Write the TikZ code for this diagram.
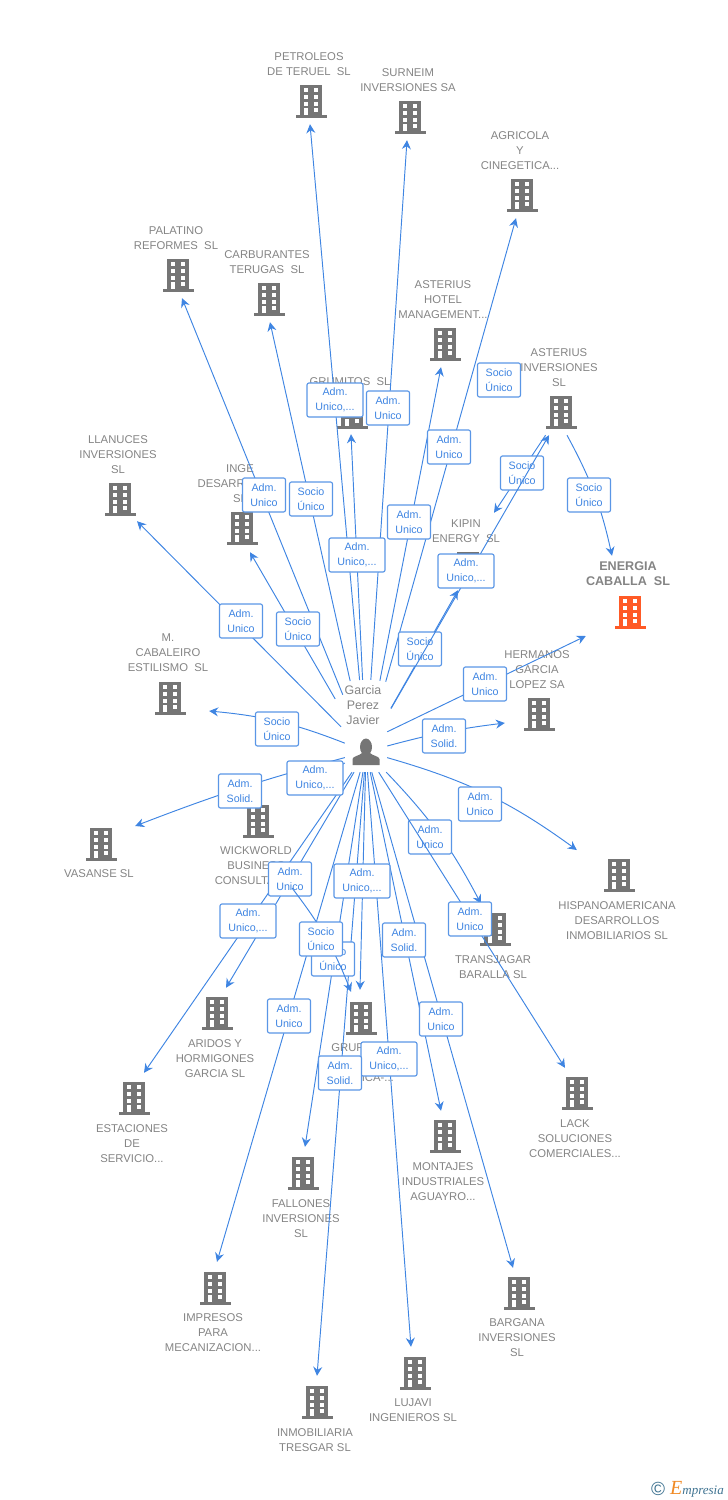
\documentclass[tikz,border=0pt]{standalone}
\usepackage{fontspec}
\setmainfont{Liberation Sans}
\newfontfamily\logofont{Liberation Serif}
\usetikzlibrary{arrows.meta}

\definecolor{bldgray}{HTML}{757575}
\definecolor{bldorange}{HTML}{FF5A26}
\definecolor{txtgray}{HTML}{848484}
\definecolor{linkblue}{HTML}{3F85E2}
\definecolor{boxblue}{HTML}{5A96E6}
\definecolor{logoblue}{HTML}{3F7391}
\definecolor{logoorange}{HTML}{F08A24}

\newcommand{\bldshape}[1]{
    \begin{scope}[shift={(path picture bounding box.center)}]
        \fill[#1] (-11,-16.5) rectangle (11,13.5);
        \fill[#1] (-15.5,13.5) rectangle (15.5,16.5);
        \foreach \yy in {-12.7,-6.3,0.7} {
            \fill[white] (-7,\yy) rectangle (-2.8,\yy+3.8);
            \fill[white] (3,\yy) rectangle (7.2,\yy+3.8);
        }
        \fill[white] (-7,7.3) rectangle (-2.8,13.5);
        \fill[white] (3,7.3) rectangle (7.2,11.1);
    \end{scope}
}

\begin{document}
\begin{tikzpicture}[x=1pt,y=-1pt,>={Stealth[length=9pt,width=9pt,inset=3pt]},
    bld/.style={rectangle,minimum width=74pt,minimum height=46pt,inner sep=0pt,path picture={\bldshape{#1}}},
    bld/.default=bldgray,
    name text/.style={align=center,text=txtgray,xshift=-2pt,yshift=-1pt,font=\fontsize{11.3}{15}\selectfont},
    link/.style={->,draw=linkblue,line width=0.95pt},
    role/.style={draw=boxblue,fill=white,line width=1.15pt,rounded corners=2pt,align=center,text=linkblue,inner sep=0pt,minimum width=43pt,minimum height=34pt,font=\fontsize{10.7}{15}\selectfont},
    role wide/.style={role,minimum width=56pt}]

            \useasboundingbox (0,0) rectangle (728,1500);

            \node[rectangle, minimum width=42pt, minimum height=40pt, inner sep=0pt, path picture={
                \begin{scope}[shift={(path picture bounding box.center)}]
                    \fill[bldgray] (0,-5) ellipse (6pt and 8.5pt);
                    \fill[bldgray] (-13.5,13) -- (-13.5,7) .. controls (-13,4) and (-7,4) .. (-4,1) -- (4,1) .. controls (7,4) and (13,4) .. (13.5,7) -- (13.5,13) -- cycle;
                \end{scope}}] (garcia) at (366,752) {};
            \node[name text, node distance=48pt, xshift=-1pt, font=\fontsize{12.4}{15}\selectfont] (garcia text) [above of = garcia] {Garcia\\Perez\\Javier};

            \node[bld] (petroleos) at (311,101) {};
            \node[name text, node distance=37.5pt] (petroleos text) [above of = petroleos] {PETROLEOS\\DE TERUEL\ \ SL};
            \node[bld] (surneim) at (410,117) {};
            \node[name text, node distance=37.5pt] (surneim text) [above of = surneim] {SURNEIM\\INVERSIONES SA};
            \node[bld] (agricola) at (522,195) {};
            \node[name text, node distance=45.5pt] (agricola text) [above of = agricola] {AGRICOLA\\Y\\CINEGETICA...};
            \node[bld] (palatino) at (178,275) {};
            \node[name text, node distance=37.5pt] (palatino text) [above of = palatino] {PALATINO\\REFORMES\ \ SL};
            \node[bld] (carburantes) at (269,299) {};
            \node[name text, node distance=37.5pt] (carburantes text) [above of = carburantes] {CARBURANTES\\TERUGAS\ \ SL};
            \node[bld] (hotel) at (445,344) {};
            \node[name text, node distance=45.5pt] (hotel text) [above of = hotel] {ASTERIUS\\HOTEL\\MANAGEMENT...};
            \node[bld] (grumitos) at (352,412) {};
            \node[name text, node distance=31pt] (grumitos text) [above of = grumitos] {GRUMITOS\ \ SL};
            \node[bld] (inversiones) at (561,412) {};
            \node[name text, node distance=45.5pt] (inversiones text) [above of = inversiones] {ASTERIUS\\INVERSIONES\\SL};
            \node[bld] (llanuces) at (120,499) {};
            \node[name text, node distance=45.5pt] (llanuces text) [above of = llanuces] {LLANUCES\\INVERSIONES\\SL};
            \node[bld] (inge) at (242,528) {};
            \node[name text, node distance=45.5pt] (inge text) [above of = inge] {INGE\\DESARROLLOS\\SL};
            \node[bld] (kipin) at (468,568) {};
            \node[name text, node distance=37.5pt] (kipin text) [above of = kipin] {KIPIN\\ENERGY\ \ SL};
            \node[bld=bldorange] (energia) at (630,612) {};
            \node[name text, node distance=39pt, font=\fontsize{12.6}{15}\selectfont\bfseries] (energia text) [above of = energia] {ENERGIA\\CABALLA\ \ SL};
            \node[bld] (hermanos) at (539,714) {};
            \node[name text, node distance=45.5pt] (hermanos text) [above of = hermanos] {HERMANOS\\GARCIA\\LOPEZ SA};
            \node[bld] (cabaleiro) at (170,698) {};
            \node[name text, node distance=46pt] (cabaleiro text) [above of = cabaleiro] {M.\\CABALEIRO\\ESTILISMO\ \ SL};

            \node[bld] (vasanse) at (101,844) {};
            \node[name text, node distance=29pt] (vasanse text) [below of = vasanse] {VASANSE SL};
            \node[bld] (wickworld) at (258,821) {};
            \node[name text, node distance=44pt] (wickworld text) [below of = wickworld] {WICKWORLD\\BUSINESS\\CONSULTANTS};
            \node[bld] (hispano) at (619,875) {};
            \node[name text, node distance=45pt] (hispano text) [below of = hispano] {HISPANOAMERICANA\\DESARROLLOS\\INMOBILIARIOS SL};
            \node[bld] (transjagar) at (495,929) {};
            \node[name text, node distance=37.5pt] (transjagar text) [below of = transjagar] {TRANSJAGAR\\BARALLA SL};
            \node[bld] (lack) at (577,1093) {};
            \node[name text, node distance=45pt] (lack text) [below of = lack] {LACK\\SOLUCIONES\\COMERCIALES...};
            \node[bld] (aridos) at (217,1013) {};
            \node[name text, node distance=45pt] (aridos text) [below of = aridos] {ARIDOS Y\\HORMIGONES\\GARCIA SL};
            \node[bld] (estaciones) at (134,1098) {};
            \node[name text, node distance=45pt] (estaciones text) [below of = estaciones] {ESTACIONES\\DE\\SERVICIO...};
            \node[bld] (grup) at (361,1018) {};
            \node[name text, node distance=44pt] (grup text) [below of = grup] {GRUP\hphantom{XXX}\\~\\\hphantom{XXXXX}ICA-...};
            \node[bld] (fallones) at (303,1173) {};
            \node[name text, node distance=45pt] (fallones text) [below of = fallones] {FALLONES\\INVERSIONES\\SL};
            \node[bld] (montajes) at (445,1136) {};
            \node[name text, node distance=45pt] (montajes text) [below of = montajes] {MONTAJES\\INDUSTRIALES\\AGUAYRO...};
            \node[bld] (impresos) at (215,1288) {};
            \node[name text, node distance=44pt] (impresos text) [below of = impresos] {IMPRESOS\\PARA\\MECANIZACION...};
            \node[bld] (bargana) at (519,1293) {};
            \node[name text, node distance=44pt] (bargana text) [below of = bargana] {BARGANA\\INVERSIONES\\SL};
            \node[bld] (lujavi) at (415,1373) {};
            \node[name text, node distance=36.5pt] (lujavi text) [below of = lujavi] {LUJAVI\\INGENIEROS SL};
            \node[bld] (inmobiliaria) at (317,1402) {};
            \node[name text, node distance=37.5pt] (inmobiliaria text) [below of = inmobiliaria] {INMOBILIARIA\\TRESGAR SL};

            \draw[link, shorten <=52pt] (garcia) to ([xshift=-1pt]petroleos.south);
            \draw[link, shorten <=52pt] (garcia) to ([xshift=-3pt]surneim.south);
            \draw[link, shorten <=52pt] (garcia) to ([xshift=-6pt]agricola.south);
            \draw[link, shorten <=40pt] (garcia) to ([xshift=4pt]palatino.south);
            \draw[link, shorten <=52pt] (garcia) to ([xshift=1pt]carburantes.south);
            \draw[link, shorten <=52pt] (garcia) to ([xshift=-4pt]hotel.south);
            \draw[link, shorten <=52pt] (garcia) to ([shift={(-1pt,1pt)}]grumitos.south);
            \draw[link, shorten <=7pt] (garcia) to ([shift={(17pt,1pt)}]llanuces.south);
            \draw[link, shorten <=38pt] (garcia) to ([shift={(8pt,-1pt)}]inge.south);
            \draw[link, bend right=8] (garcia) to ([shift={(2pt,-13pt)}]cabaleiro.east);
            \draw[link, bend right=3] (garcia) to ([shift={(-3pt,18pt)}]vasanse.east);
            \draw[link] (garcia) to ([shift={(-8pt,28pt)}]wickworld.east);
            \draw[link, bend left=4] (garcia) to ([shift={(3pt,-9pt)}]hermanos.west);
            \draw[link] (garcia.north east) to ([shift={(-7pt,-24pt)}]energia.west);
            \draw[link, bend left=10] (garcia) to ([shift={(-5pt,25pt)}]hispano.west);
            \draw[link] (garcia) to ([shift={(9pt,2pt)}]aridos.north);
            \draw[link] (garcia) to ([shift={(10pt,2pt)}]estaciones.north);
            \draw[link] (garcia) to ([shift={(2pt,3pt)}]impresos.north);
            \draw[link] (garcia) to ([shift={(-1pt,5pt)}]grup.north);
            \draw[link] (garcia) to ([shift={(-4pt,2pt)}]montajes.north);
            \draw[link] (garcia) to ([shift={(-6pt,2pt)}]bargana.north);
            \draw[link] (garcia) to ([shift={(-4pt,3pt)}]lujavi.north);
            \draw[link] (garcia) to ([yshift=3pt]inmobiliaria.north);
            \draw[link] (garcia) to ([shift={(2pt,3pt)}]fallones.north);
            \draw[link, bend left=8] ([xshift=6pt]inversiones.south) to ([shift={(-18pt,33pt)}]energia.north);

            \node[role wide] (petroleos role) at (335,400) {Adm.\\Unico,...};
            \node[role] (surneim role) at (388,408) {Adm.\\Unico};
            \node[role] (agricola role) at (449,447) {Adm.\\Unico};
            \node[role] (palatino role) at (264,495) {Adm.\\Unico};
            \node[role] (carburantes role) at (311,499) {Socio\\Único};
            \node[role] (hotel role) at (409,522) {Adm.\\Unico};
            \node[role wide] (grumitos role) at (357,555) {Adm.\\Unico,...};
            \node[role] (llanuces role) at (241,621) {Adm.\\Unico};
            \node[role] (inge role) at (298,629) {Socio\\Único};
            \node[role] (cabaleiro role) at (277,729) {Socio\\Único};
            \node[role] (vasanse role) at (240,791) {Adm.\\Solid.};
            \node[role wide] (wickworld role) at (315,778) {Adm.\\Unico,...};
            \node[role] (hermanos role) at (444,736) {Adm.\\Solid.};
            \node[role] (energia role) at (485,684) {Adm.\\Unico};
            \node[role] (hispano role) at (480,804) {Adm.\\Unico};
            \node[role] (hotel link role) at (499,380) {Socio\\Único};
            \node[role] (energia link role) at (589,495) {Socio\\Único};

            \draw[link] (inversiones) to ([shift={(26pt,32pt)}]kipin.north);
            \node[role] (kipin link role) at (522,473) {Socio\\Único};

            \draw[link, shorten <=27pt] (garcia) to ([shift={(-10pt,1pt)}]kipin.south);
            \node[role] (kipin role) at (420,649) {Socio\\Único};
            \draw[link, shorten <=27pt] (garcia) to ([xshift=-12pt]inversiones.south);
            \node[role wide] (inversiones role) at (466,571) {Adm.\\Unico,...};

            \draw[link, bend left=8] (garcia) to ([shift={(-14pt,2pt)}]transjagar.north);
            \node[role] (transjagar role) at (430,837) {Adm.\\Unico};
            \draw[link] (garcia) to ([shift={(-12pt,2pt)}]lack.north);
            \node[role] (lack role) at (470,919) {Adm.\\Unico};

            \node[role wide] (estaciones role) at (248,921) {Adm.\\Unico,...};
            \node[role] (aridos role) at (290,879) {Adm.\\Unico};
            \node[role wide] (grup role) at (362,881) {Adm.\\Unico,...};
            \node[role] (fallones role) at (333,959) {Socio\\Único};
            \draw[link, bend left=8] ([shift={(34pt,-67pt)}]wickworld.center) to ([shift={(-10pt,3pt)}]grup.north);
            \node[role] (grup link role) at (321,939) {Socio\\Único};
            \node[role] (montajes role) at (404,940) {Adm.\\Solid.};
            \node[role] (impresos role) at (289,1016) {Adm.\\Unico};
            \node[role] (bargana role) at (441,1019) {Adm.\\Unico};
            \node[role wide] (lujavi role) at (389,1059) {Adm.\\Unico,...};
            \node[role] (inmobiliaria role) at (340,1073) {Adm.\\Solid.};

            \node[text=logoblue, font=\fontsize{19}{19}\selectfont, inner sep=0pt] (logo mark) at (658,1489) {©};
            \node[text=logoblue, font=\logofont\itshape\fontsize{13}{13}\selectfont, anchor=base west, inner sep=0pt] (logo) at (670,1494) {{\color{logoorange}\fontsize{20}{20}\selectfont E}mpresia};
        \end{tikzpicture}
\end{document}
